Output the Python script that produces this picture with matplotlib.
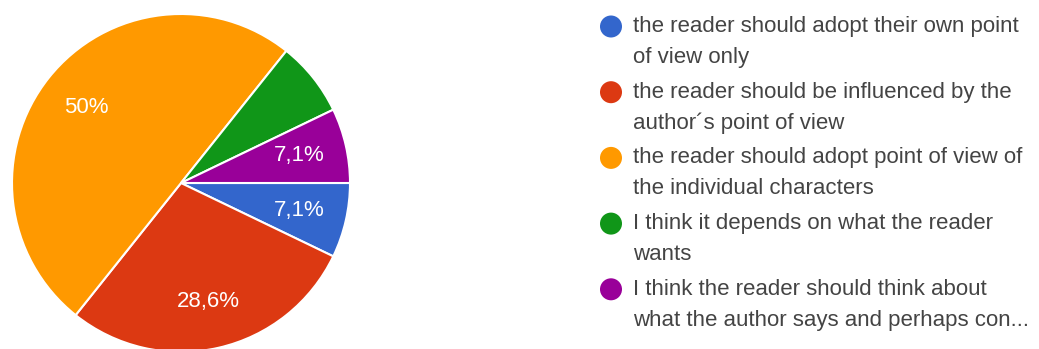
import matplotlib
matplotlib.use("Agg")
import matplotlib.pyplot as plt
from matplotlib.patches import Circle

plt.rcParams['font.family'] = ['Liberation Sans', 'DejaVu Sans']

# responses per answer (14 in total)
answers = [
    "the reader should adopt their own point\nof view only",
    "the reader should be influenced by the\nauthor\u00b4s point of view",
    "the reader should adopt point of view of\nthe individual characters",
    "I think it depends on what the reader\nwants",
    "I think the reader should think about\nwhat the author says and perhaps con...",
]
counts = [1, 4, 7, 1, 1]
colors = ["#3366cc", "#dc3912", "#ff9900", "#109618", "#990099"]
show_pct = [True, True, True, False, True]

W, H = 1039, 349
fig = plt.figure(figsize=(W / 100, H / 100), dpi=100)

# pie: centre at (181, 183) px, radius 169 px
cx, cy, r = 181, 183, 169
ax = fig.add_axes([(cx - r) / W, (H - cy - r) / H, 2 * r / W, 2 * r / H])
total = sum(counts)

def fmt(p):
    return ("%.1f%%" % p).replace(".0%", "%").replace(".", ",")

wedges, texts, autotexts = ax.pie(
    counts, colors=colors, startangle=0, counterclock=False,
    autopct=fmt, pctdistance=0.72,
    wedgeprops=dict(edgecolor="white", linewidth=1.5),
    textprops=dict(color="white", fontsize=16),
)
for t, keep in zip(autotexts, show_pct):
    t.set_visible(keep)
ax.set_xlim(-1, 1)
ax.set_ylim(-1, 1)
ax.set_aspect("equal")
ax.axis("off")

# legend drawn in pixel coordinates
lg = fig.add_axes([0, 0, 1, 1])
lg.set_xlim(0, W)
lg.set_ylim(H, 0)
lg.axis("off")
first_base = 32
item_step = 65.7
line_step = 31
for i, (label, col) in enumerate(zip(answers, colors)):
    base = first_base + i * item_step
    lg.add_patch(Circle((611, base - 5.5), 11, color=col, lw=0))
    for j, line in enumerate(label.split("\n")):
        lg.text(633, base + j * line_step, line, fontsize=16, color="#444444",
                va="baseline", ha="left")

fig.savefig("out.png", dpi=100)
